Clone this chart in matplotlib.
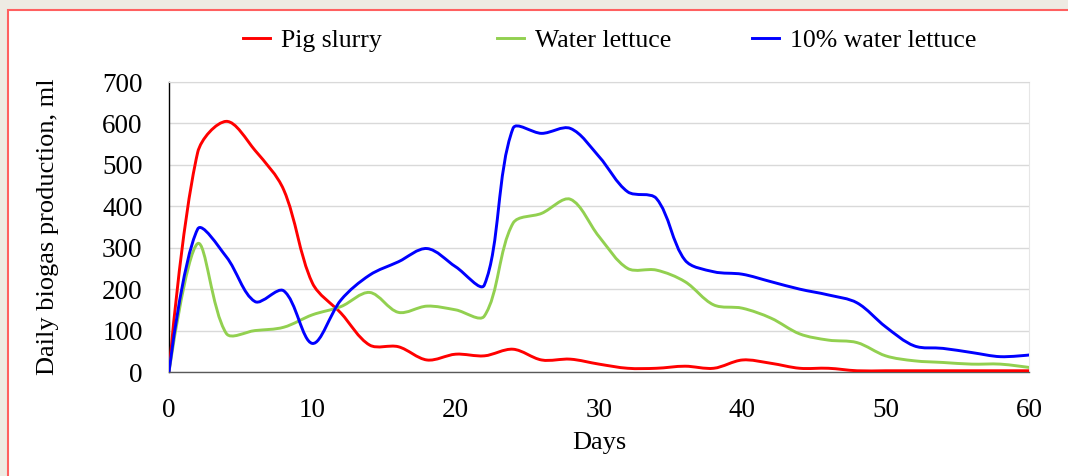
import math
import matplotlib
matplotlib.use("Agg")
import matplotlib.pyplot as plt
from matplotlib.path import Path
from matplotlib.patches import PathPatch, Rectangle
from matplotlib.lines import Line2D

plt.rcParams['font.family'] = ['Liberation Serif', 'DejaVu Serif']

days = [0, 2, 4, 6, 8, 10, 12, 14, 16, 18, 20, 22, 24, 26, 28, 30,
        32, 34, 36, 38, 40, 42, 44, 46, 48, 50, 52, 54, 56, 58, 60]

pig_slurry = [0, 530, 605, 535, 440, 215, 142, 65, 61, 29, 43, 39, 55, 29, 31, 19,
              9, 9, 14, 9, 29, 21, 9, 9, 3, 3, 3, 3, 3, 3, 3]
water_lettuce = [0, 310, 93, 100, 108, 138, 158, 192, 144, 159, 150, 135, 359, 383, 417, 327,
                 250, 246, 218, 162, 154, 130, 92, 77, 71, 39, 27, 23, 19, 19, 11]
water_lettuce_10 = [0, 345, 278, 170, 196, 69, 174, 234, 266, 298, 254, 210, 588, 576, 588, 520,
                    435, 419, 270, 242, 236, 218, 200, 186, 167, 109, 63, 57, 47, 37, 41]

series_names = ['Pig slurry', 'Water lettuce', '10% water lettuce']
series_colors = ['#FF0000', '#92D050', '#0000FF']
series_values = [pig_slurry, water_lettuce, water_lettuce_10]

x_ticks = [0, 10, 20, 30, 40, 50, 60]
y_ticks = [0, 100, 200, 300, 400, 500, 600, 700]


def smooth_path(ax, xs, ys):
    """Cubic Bezier path through every point; tangent handles are weighted
    by the on-screen lengths of the neighbouring segments."""
    disp = ax.transData.transform(list(zip(xs, ys)))
    n = len(xs)

    def seglen(i, j):
        return math.hypot(disp[j][0] - disp[i][0], disp[j][1] - disp[i][1]) or 1e-9

    verts = [(xs[0], ys[0])]
    codes = [Path.MOVETO]
    for i in range(n - 1):
        i0 = max(i - 1, 0)
        i3 = min(i + 2, n - 1)
        d01 = seglen(i0, i) if i0 != i else 0.0
        d12 = seglen(i, i + 1)
        d23 = seglen(i + 1, i3) if i3 != i + 1 else 0.0
        f1 = d12 / (3.0 * (d01 + d12)) if d01 > 0 else 0.0
        f2 = d12 / (3.0 * (d12 + d23)) if d23 > 0 else 0.0
        c1 = (xs[i] + (xs[i + 1] - xs[i0]) * f1, ys[i] + (ys[i + 1] - ys[i0]) * f1)
        c2 = (xs[i + 1] - (xs[i3] - xs[i]) * f2, ys[i + 1] - (ys[i3] - ys[i]) * f2)
        verts += [c1, c2, (xs[i + 1], ys[i + 1])]
        codes += [Path.CURVE4, Path.CURVE4, Path.CURVE4]
    return Path(verts, codes)


fig = plt.figure(figsize=(10.68, 4.76), dpi=100)
fig.patch.set_facecolor('#EEEBE3')
fig.add_artist(Rectangle((7.5 / 1068, -0.01), 1.02, (476 - 9.5) / 476 + 0.01,
                         transform=fig.transFigure, facecolor='white',
                         edgecolor='#FF6060', linewidth=1.5, zorder=0))

ax = fig.add_axes([169 / 1068, 104 / 476, (1029 - 169) / 1068, (372 - 82) / 476])
ax.set_facecolor('white')
ax.set_xlim(0, 60)
ax.set_ylim(0, 700)

for vals, color in zip(series_values, series_colors):
    ax.add_patch(PathPatch(smooth_path(ax, days, vals), facecolor='none',
                           edgecolor=color, linewidth=2.1, zorder=3,
                           capstyle='round', joinstyle='round'))

ax.set_xticks(x_ticks)
ax.set_yticks(y_ticks)
ax.tick_params(axis='both', length=0, labelsize=19.5, colors='black')
ax.tick_params(axis='x', pad=18.5)
ax.tick_params(axis='y', pad=19)
ax.grid(axis='y', color='#D9D9D9', linewidth=1.0, zorder=1)
ax.set_axisbelow(True)

ax.spines['left'].set_color('black')
ax.spines['left'].set_linewidth(1.0)
ax.spines['bottom'].set_color('#595959')
ax.spines['bottom'].set_linewidth(1.0)
ax.spines['top'].set_color('#D9D9D9')
ax.spines['right'].set_color('#E6E6E6')

ax.set_xlabel('Days', fontsize=19, labelpad=7)
ax.set_ylabel('Daily biogas production, ml', fontsize=19, labelpad=31)

# legend entries laid out along the top
legend_x = [243, 497, 752]
for name, color, lx in zip(series_names, series_colors, legend_x):
    handle = Line2D([], [], color=color, linewidth=2.1)
    fig.legend([handle], [name], loc='center left',
               bbox_to_anchor=(lx / 1068, 1 - 41 / 476), frameon=False,
               fontsize=18.5, handlelength=1.05, handletextpad=0.42,
               borderpad=0, borderaxespad=0)

fig.savefig('out.png', dpi=100, facecolor=fig.get_facecolor())
